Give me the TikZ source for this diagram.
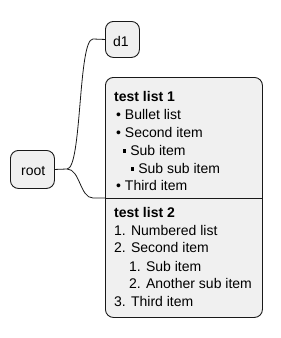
\documentclass[tikz,border=0pt]{standalone}
\usepackage{fontspec}
\setmainfont{Liberation Sans}
\begin{document}
\begin{tikzpicture}[x=1pt,y=-1pt,
  box/.style={draw=black!90,line width=0.9pt,fill=black!6,rounded corners=8pt,inner sep=0pt,anchor=north west},
  txt/.style={anchor=base west,inner sep=0pt,font=\fontsize{14}{16}\selectfont},
  conn/.style={draw=black!90,line width=0.8pt}]
\useasboundingbox (0,0) rectangle (281,338);
\node[box,minimum width=44pt,minimum height=38pt] (root) at (10,150) {};
\node[box,minimum width=34pt,minimum height=36pt] (d1) at (105,21) {};
\node[box,minimum width=157pt,minimum height=240pt] (lists) at (105,77) {};
\node[txt] (troot) at (21,175) {root};
\node[txt] (td1) at (113,46.5) {d1};
\coordinate (split) at (105,198);
\draw[conn] (split) -- (262,198);
% list 1
\node[txt] (h1) at (114,101.5) {\textbf{test list 1}};
\node[txt] (a1) at (116,119.5) {• Bullet list};
\node[txt] (a2) at (116,137) {• Second item};
\node[txt] (a3) at (123,155) {\raisebox{2.4pt}{\rule{3.2pt}{3.2pt}} Sub item};
\node[txt] (a4) at (131,173) {\raisebox{2.4pt}{\rule{3.2pt}{3.2pt}} Sub sub item};
\node[txt] (a5) at (116,190.5) {• Third item};
% list 2
\node[txt] (h2) at (114,217.5) {\textbf{test list 2}};
\node[txt] (b1) at (114,235) {1. Numbered list};
\node[txt] (b2) at (114,252.7) {2. Second item};
\node[txt] (b3) at (129,271) {1. Sub item};
\node[txt] (b4) at (129,288.7) {2. Another sub item};
\node[txt] (b5) at (114,306) {3. Third item};
% connectors
\coordinate (fork) at (67,169);
\draw[conn] (root.east) -- (fork) .. controls (82,169) and (78,39) .. (93,39) -- (d1.west);
\draw[conn] (fork) .. controls (80,169) and (80,198) .. (93,198) -- (split);
\end{tikzpicture}
\end{document}
